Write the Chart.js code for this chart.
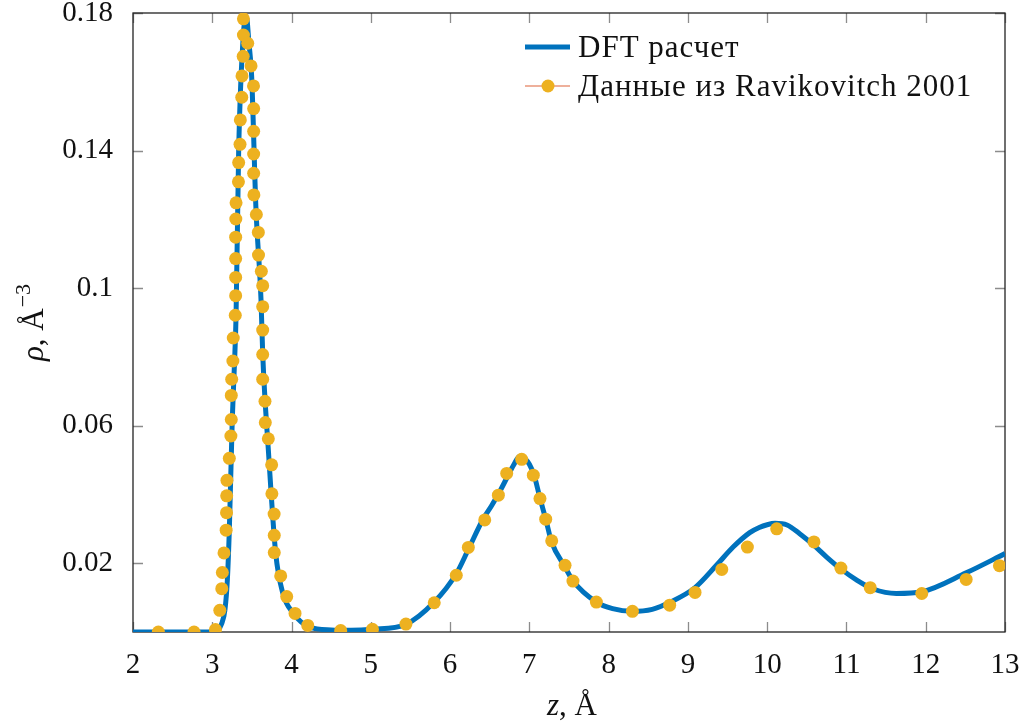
<!DOCTYPE html>
<html>
<head>
<meta charset="utf-8">
<script src="https://cdn.jsdelivr.net/npm/chart.js@4.4.1/dist/chart.umd.min.js"></script>
<style>
  html, body { margin: 0; padding: 0; background: #fff; }
  #wrap { width: 1032px; height: 728px; }
</style>
</head>
<body>
<div id="wrap"><canvas id="chart" width="1032" height="728"></canvas></div>
<script>
// DFT curve, z in angstrom, rho in A^-3
const dftZ = [2.00, 2.50, 2.90, 3.05, 3.12, 3.16, 3.19, 3.215, 3.252, 3.28, 3.30, 3.333,
  3.393, 3.432, 3.463, 3.497, 3.55, 3.615, 3.636, 3.71, 3.80, 3.89, 4.02, 4.23, 4.50,
  4.75, 5.02, 5.44, 5.80, 6.08, 6.23, 6.42, 6.525, 6.63, 6.72, 6.80, 6.88, 6.95, 7.00,
  7.06, 7.13, 7.21, 7.28, 7.45, 7.55, 7.845, 8.05, 8.30, 8.55, 8.78, 9.09, 9.36, 9.57,
  9.78, 9.90, 10.00, 10.10, 10.25, 10.41, 10.58, 10.75, 10.92, 11.13, 11.34, 11.63,
  11.95, 12.51, 13.00];
const dftRho = [0.0000, 0.0000, 0.0000, 0.0003, 0.0025, 0.0065, 0.0150, 0.0296, 0.0616,
  0.0780, 0.0920, 0.1400, 0.1740, 0.1785, 0.1712, 0.1615, 0.1237, 0.0965, 0.0810,
  0.0520, 0.0229, 0.0113, 0.0055, 0.0014, 0.0006, 0.0005, 0.0008, 0.0022, 0.0087,
  0.0170, 0.0240, 0.0330, 0.0368, 0.0410, 0.0450, 0.0485, 0.0511, 0.0503, 0.0488,
  0.0456, 0.0393, 0.0325, 0.0262, 0.0189, 0.0149, 0.0087, 0.0068, 0.0060, 0.0066,
  0.0087, 0.0129, 0.0194, 0.0247, 0.0289, 0.0304, 0.0312, 0.0316, 0.0311, 0.0286,
  0.0254, 0.0218, 0.0185, 0.0151, 0.0125, 0.0112, 0.0117, 0.0172, 0.0228];

// Ravikovitch 2001 points
const refZ = [2.32, 2.77, 3.04, 3.095, 3.12, 3.127, 3.148, 3.175, 3.18, 3.182, 3.185,
  3.215, 3.235, 3.24, 3.24, 3.245, 3.26, 3.265, 3.29, 3.295, 3.295, 3.295, 3.295,
  3.297, 3.30, 3.33, 3.333, 3.35, 3.354, 3.372, 3.375, 3.39, 3.393, 3.393, 3.447,
  3.489, 3.52, 3.522, 3.522, 3.522, 3.522, 3.525, 3.556, 3.581, 3.583, 3.619, 3.636,
  3.636, 3.636, 3.636, 3.636, 3.665, 3.669, 3.707, 3.749, 3.752, 3.78, 3.782, 3.782,
  3.863, 3.939, 4.044, 4.204, 4.62, 5.02, 5.443, 5.80, 6.078, 6.23, 6.437, 6.609,
  6.714, 6.903, 7.05, 7.134, 7.206, 7.282, 7.45, 7.55, 7.845, 8.30, 8.77, 9.09, 9.427,
  9.75, 10.12, 10.59, 10.93, 11.30, 11.95, 12.51, 12.93];
const refRho = [0.0000, 0.0000, 0.0007, 0.0063, 0.0126, 0.0173, 0.0230, 0.0296, 0.0347,
  0.0396, 0.0441, 0.0505, 0.0570, 0.0618, 0.0688, 0.0735, 0.0788, 0.0855, 0.0921,
  0.0978, 0.1031, 0.1086, 0.1148, 0.1201, 0.1248, 0.1309, 0.1365, 0.1418, 0.1489,
  0.1555, 0.1617, 0.1674, 0.1736, 0.1783, 0.1712, 0.1646, 0.1588, 0.1522, 0.1456,
  0.1390, 0.1334, 0.1271, 0.1214, 0.1162, 0.1096, 0.1049, 0.1007, 0.0946, 0.0878,
  0.0807, 0.0735, 0.0671, 0.0609, 0.0562, 0.0486, 0.0402, 0.0343, 0.0281, 0.0231,
  0.0163, 0.0103, 0.0054, 0.0019, 0.0004, 0.0008, 0.0023, 0.0085, 0.0165, 0.0246,
  0.0326, 0.0398, 0.0461, 0.0502, 0.0456, 0.0388, 0.0328, 0.0265, 0.0194, 0.0148,
  0.0087, 0.0060, 0.0078, 0.0115, 0.0182, 0.0247, 0.0300, 0.0262, 0.0186, 0.0129,
  0.0112, 0.0153, 0.0193];

const xTicks = [2, 3, 4, 5, 6, 7, 8, 9, 10, 11, 12, 13];
const yTicks = [0.02, 0.06, 0.1, 0.14, 0.18];
const yTickLabels = ["0.02", "0.06", "0.1", "0.14", "0.18"];
const seriesNames = ["DFT расчет", "Данные из Ravikovitch 2001"];

const blue = "#0072BD";
const gold = "#EDB120";
const serif = "'Liberation Serif', 'DejaVu Serif', serif";

const toPoints = (xs, ys) => xs.map((x, i) => ({ x: x, y: ys[i] }));

// frame + inward ticks on all four sides, under the data
const framePlugin = {
  id: "frame",
  beforeDatasetsDraw(chart) {
    const { ctx, chartArea: a, scales } = chart;
    ctx.save();
    ctx.strokeStyle = "#8c8c8c";
    ctx.lineWidth = 1.3;
    ctx.beginPath();
    xTicks.forEach((v) => {
      const px = Math.round(scales.x.getPixelForValue(v)) + 0.5;
      ctx.moveTo(px, a.bottom); ctx.lineTo(px, a.bottom - 10);
      ctx.moveTo(px, a.top); ctx.lineTo(px, a.top + 10);
    });
    yTicks.forEach((v) => {
      const py = Math.round(scales.y.getPixelForValue(v)) + 0.5;
      ctx.moveTo(a.left, py); ctx.lineTo(a.left + 10, py);
      ctx.moveTo(a.right, py); ctx.lineTo(a.right - 10, py);
    });
    ctx.stroke();
    ctx.strokeStyle = "#222";
    ctx.lineWidth = 1.3;
    ctx.strokeRect(a.left, a.top, a.right - a.left, a.bottom - a.top);
    ctx.restore();
  },
};

// legend and axis titles with mixed italic/upright text
const textPlugin = {
  id: "texts",
  afterDraw(chart) {
    const { ctx, chartArea: a } = chart;
    ctx.save();
    ctx.fillStyle = "#111";
    ctx.textBaseline = "alphabetic";

    // legend
    ctx.lineCap = "butt";
    ctx.strokeStyle = blue;
    ctx.lineWidth = 5;
    ctx.beginPath(); ctx.moveTo(525, 47); ctx.lineTo(570, 47); ctx.stroke();
    ctx.strokeStyle = "#E8967A";
    ctx.lineWidth = 1.3;
    ctx.beginPath(); ctx.moveTo(525, 86); ctx.lineTo(570, 86); ctx.stroke();
    ctx.fillStyle = gold;
    ctx.beginPath(); ctx.arc(548, 86, 6.5, 0, Math.PI * 2); ctx.fill();
    ctx.fillStyle = "#111";
    ctx.font = "31px " + serif;
    ctx.letterSpacing = "1px";
    ctx.textAlign = "left";
    ctx.fillText(seriesNames[0], 578, 57);
    ctx.fillText(seriesNames[1], 578, 96);
    ctx.letterSpacing = "0px";

    // x title: z, Å
    const cx = (a.left + a.right) / 2 + 3;
    ctx.font = "italic 31px " + serif;
    const wz = ctx.measureText("z").width;
    ctx.font = "31px " + serif;
    const wr = ctx.measureText(", Å").width;
    let x0 = cx - (wz + wr) / 2;
    ctx.font = "italic 31px " + serif;
    ctx.fillText("z", x0, 715);
    ctx.font = "31px " + serif;
    ctx.fillText(", Å", x0 + wz, 715);

    // y title: rho, Å^-3 (rotated)
    ctx.translate(43, 323);
    ctx.rotate(-Math.PI / 2);
    ctx.font = "italic 31px " + serif;
    const wp = ctx.measureText("ρ").width;
    ctx.font = "31px " + serif;
    const wa = ctx.measureText(", Å").width;
    ctx.font = "22px " + serif;
    const ws = ctx.measureText("−3").width;
    x0 = -(wp + wa + ws) / 2;
    ctx.font = "italic 31px " + serif;
    ctx.fillText("ρ", x0, 0);
    ctx.font = "31px " + serif;
    ctx.fillText(", Å", x0 + wp, 0);
    ctx.font = "22px " + serif;
    ctx.fillText("−3", x0 + wp + wa + 1, -13);
    ctx.restore();
  },
};

new Chart(document.getElementById("chart"), {
  type: "scatter",
  data: {
    datasets: [
      {
        label: seriesNames[0],
        data: toPoints(dftZ, dftRho),
        showLine: true,
        borderColor: blue,
        borderWidth: 5,
        pointRadius: 0,
        cubicInterpolationMode: "monotone",
        order: 2,
      },
      {
        label: seriesNames[1],
        data: toPoints(refZ, refRho),
        showLine: false,
        pointRadius: 6.5,
        pointBackgroundColor: gold,
        pointBorderWidth: 0,
        order: 1,
      },
    ],
  },
  options: {
    responsive: false,
    animation: false,
    layout: { padding: { top: 13, right: 27, left: 0, bottom: 0 } },
    plugins: {
      legend: { display: false },
      tooltip: { enabled: false },
    },
    scales: {
      x: {
        type: "linear",
        min: 2,
        max: 13,
        grid: { display: false },
        border: { display: false },
        afterBuildTicks: (s) => { s.ticks = xTicks.map((v) => ({ value: v })); },
        afterFit: (s) => { s.height = 96; s.paddingLeft = 0; s.paddingRight = 0; },
        ticks: {
          color: "#111",
          padding: 8,
          maxRotation: 0,
          font: { family: serif, size: 29 },
          callback: (v) => String(v),
        },
      },
      y: {
        type: "linear",
        min: 0,
        max: 0.18,
        grid: { display: false },
        border: { display: false },
        afterBuildTicks: (s) => { s.ticks = yTicks.map((v) => ({ value: v })); },
        afterFit: (s) => { s.width = 133; s.paddingTop = 0; s.paddingBottom = 0; },
        ticks: {
          color: "#111",
          padding: 12,
          font: { family: serif, size: 29 },
          callback: (v, i) => yTickLabels[i],
        },
      },
    },
  },
  plugins: [framePlugin, textPlugin],
});
</script>
</body>
</html>
